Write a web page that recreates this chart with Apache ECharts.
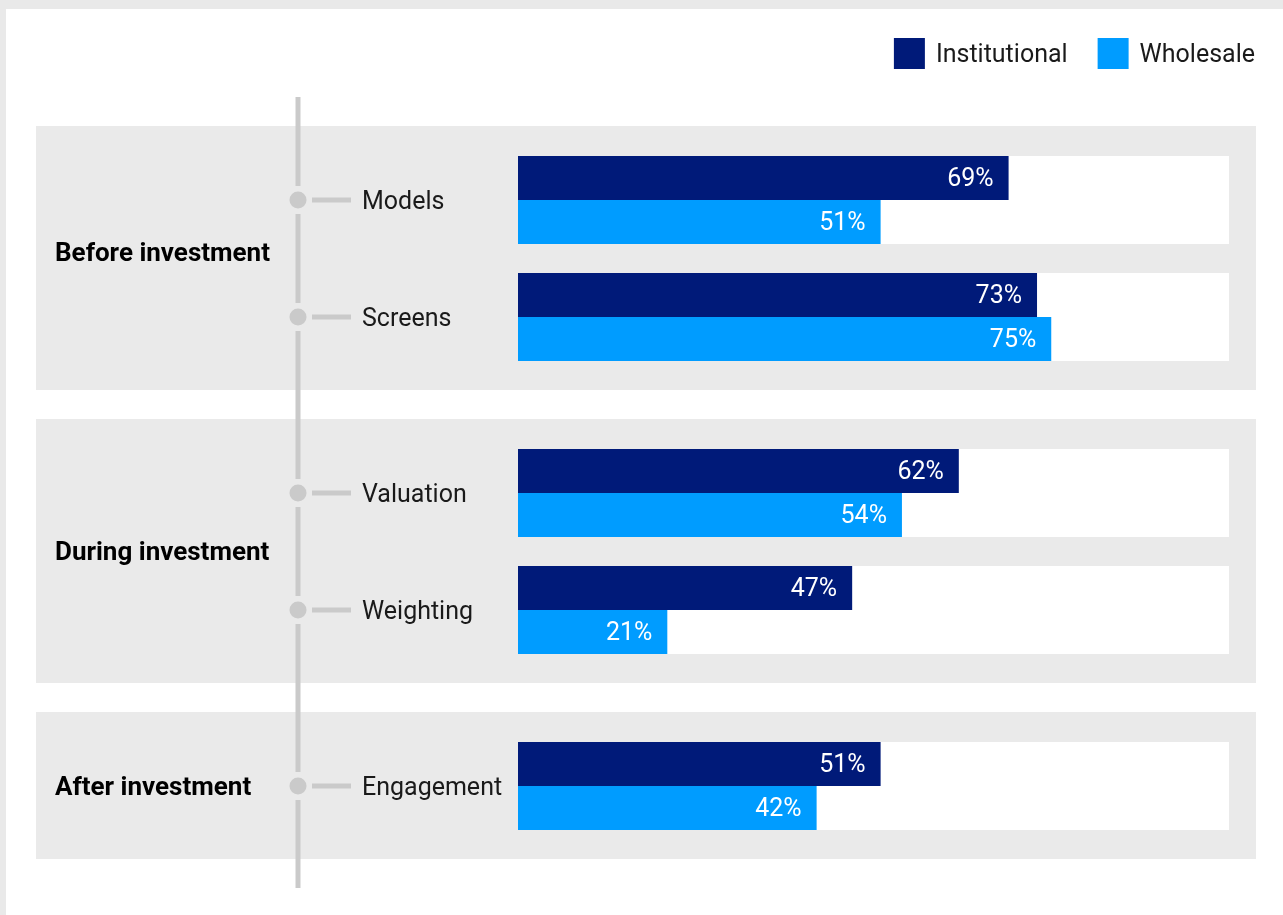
<!DOCTYPE html>
<html><head><meta charset="utf-8">
<script src="https://cdn.jsdelivr.net/npm/echarts@6/dist/echarts.min.js"></script>
<style>html,body{margin:0;padding:0;background:#fff;}#c{width:1283px;height:915px;}</style>
</head><body><div id="c"></div>
<script>
// ---- data ----
const groups = ['Before investment', 'During investment', 'After investment'];
const categories = ['Models', 'Screens', 'Valuation', 'Weighting', 'Engagement'];
const categoryGroup = [0, 0, 1, 1, 2];
const institutional = [69, 73, 62, 47, 51];
const wholesale = [51, 75, 54, 21, 42];
const seriesNames = ['Institutional', 'Wholesale'];

// ---- styles / layout ----
const FONT = 'Roboto';
const COLORS = ['#001a79', '#009cff'];
const PANEL = '#eaeaea';
const LINE = '#cacaca';
const SLOT = 117;
const gridTops = [141.5, 434.5, 727.5];
const labelNudge = [-4, 2, 2];

const chart = echarts.init(document.getElementById('c'), null, {renderer: 'canvas'});

const grids = [], xAxes = [], yAxes = [], series = [];
groups.forEach((g, gi) => {
  const idx = categories.map((c, i) => i).filter(i => categoryGroup[i] === gi);
  const cats = idx.map(i => categories[i]);
  grids.push({left: 518, width: 711, top: gridTops[gi], height: SLOT * cats.length, containLabel: false});
  xAxes.push({type: 'value', gridIndex: gi, min: 0, max: 100, show: false});
  yAxes.push({
    type: 'category', gridIndex: gi, inverse: true, data: cats, z: 5,
    axisLine: {show: false}, axisTick: {show: false}, splitLine: {show: false},
    axisLabel: {
      align: 'left', margin: 156,
      formatter: v => '{t|' + v + '}',
      rich: {t: {fontSize: 25, fontFamily: FONT, color: '#1a1a1a', padding: [6, 0, 0, 0]}}
    }
  });
  [institutional, wholesale].forEach((vals, si) => {
    series.push({
      type: 'bar', name: seriesNames[si], xAxisIndex: gi, yAxisIndex: gi,
      data: idx.map(i => vals[i]),
      barWidth: 44, barGap: '0%',
      showBackground: true, backgroundStyle: {color: '#ffffff', opacity: 1},
      itemStyle: {color: COLORS[si]},
      label: {show: true, position: 'insideRight', distance: 15, offset: [0, 2], color: '#fff',
              fontSize: 25, fontFamily: FONT, formatter: '{c}%'},
      silent: true
    });
  });
});

chart.setOption({
  animation: false,
  backgroundColor: '#ffffff',
  color: COLORS,
  legend: {
    data: seriesNames, right: 23, top: 33, itemWidth: 31, itemHeight: 31, itemGap: 30,
    icon: 'rect',
    formatter: '{t|{name}}',
    textStyle: {
      fontSize: 25, fontFamily: FONT, color: '#1a1a1a',
      rich: {t: {fontSize: 25, fontFamily: FONT, color: '#1a1a1a', padding: [4, 0, 0, 6]}}
    }
  },
  grid: grids, xAxis: xAxes, yAxis: yAxes, series: series
});

// ---- decorations positioned from the axes ----
const rowY = categories.map((c, i) => chart.convertToPixel({yAxisIndex: categoryGroup[i]}, c));
const graphic = [
  {type: 'rect', shape: {x: 0, y: 0, width: 1283, height: 9}, style: {fill: '#e9e9e9'}, z: -2, silent: true},
  {type: 'rect', shape: {x: 0, y: 0, width: 6, height: 915}, style: {fill: '#e9e9e9'}, z: -2, silent: true}
];
const LX = 298;
groups.forEach((g, gi) => {
  const ys = rowY.filter((y, i) => categoryGroup[i] === gi);
  const top = ys[0] - 74, bottom = ys[ys.length - 1] + 73;
  graphic.push({type: 'rect', shape: {x: 36, y: top, width: 1220, height: bottom - top},
    style: {fill: PANEL}, z: -1, silent: true});
  graphic.push({type: 'text', x: 55, y: (ys[0] + ys[ys.length - 1]) / 2 + labelNudge[gi], z: 4, silent: true,
    style: {text: g, font: 'bold 26px ' + FONT, fill: '#000', textVerticalAlign: 'middle', verticalAlign: 'middle'}});
});
const lineTop = rowY[0] - 103, lineBottom = rowY[rowY.length - 1] + 102;
let prev = lineTop;
rowY.forEach(y => {
  graphic.push({type: 'line', shape: {x1: LX, y1: prev, x2: LX, y2: y - 14}, style: {stroke: LINE, lineWidth: 5}, z: 3, silent: true});
  graphic.push({type: 'circle', shape: {cx: LX, cy: y, r: 8.5}, style: {fill: LINE}, z: 3, silent: true});
  graphic.push({type: 'line', shape: {x1: 312, y1: y, x2: 351, y2: y}, style: {stroke: LINE, lineWidth: 5}, z: 3, silent: true});
  prev = y + 14;
});
graphic.push({type: 'line', shape: {x1: LX, y1: prev, x2: LX, y2: lineBottom}, style: {stroke: LINE, lineWidth: 5}, z: 3, silent: true});
chart.setOption({graphic: graphic});
</script></body></html>
